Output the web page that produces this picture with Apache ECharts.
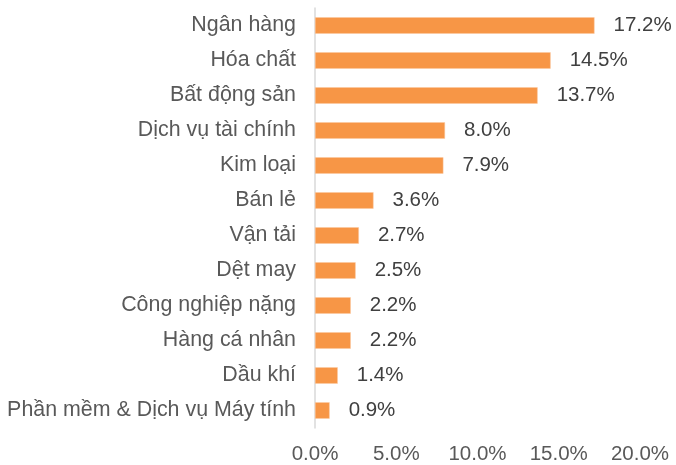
<!DOCTYPE html>
<html>
<head>
<meta charset="utf-8">
<script src="https://cdn.jsdelivr.net/npm/echarts@6/dist/echarts.min.js"></script>
<style>
  html, body { margin: 0; padding: 0; background: #fff; }
  #chart { width: 676px; height: 465px; }
</style>
</head>
<body>
<div id="chart"></div>
<script>
// ngành, thứ tự từ trên xuống
const categories = [
  'Ngân hàng', 'Hóa chất', 'Bất động sản', 'Dịch vụ tài chính', 'Kim loại',
  'Bán lẻ', 'Vận tải', 'Dệt may', 'Công nghiệp nặng', 'Hàng cá nhân',
  'Dầu khí', 'Phần mềm & Dịch vụ Máy tính'
]
const weights = [17.2, 14.5, 13.7, 8.0, 7.9, 3.6, 2.7, 2.5, 2.2, 2.2, 1.4, 0.9]
const xTicks = [0, 5, 10, 15, 20]

const font = 'Liberation Sans, Arial, sans-serif'
const chart = echarts.init(document.getElementById('chart'))

chart.setOption({
  animation: false,
  grid: { left: 315, right: 36, top: 8, bottom: 36 },
  xAxis: {
    type: 'value',
    min: xTicks[0],
    max: xTicks[xTicks.length - 1],
    interval: 5,
    axisLine: { show: false },
    axisTick: { show: false },
    splitLine: { show: false },
    axisLabel: {
      margin: 16,
      color: '#595959',
      fontFamily: font,
      fontSize: 20.5,
      formatter: v => v.toFixed(1) + '%'
    }
  },
  yAxis: {
    type: 'category',
    inverse: true,
    data: categories,
    axisLine: { lineStyle: { color: '#d9d9d9', width: 1.5 } },
    axisTick: { show: false },
    axisLabel: {
      margin: 19,
      color: '#595959',
      fontFamily: font,
      fontSize: 21.4
    }
  },
  series: [{
    type: 'bar',
    data: weights,
    barCategoryGap: '53%',
    itemStyle: { color: '#F79646', borderColor: '#fbc9a0', borderWidth: 0.5 },
    label: {
      show: true,
      position: 'right',
      distance: 19,
      color: '#404040',
      fontFamily: font,
      fontSize: 20.5,
      formatter: p => p.value.toFixed(1) + '%'
    }
  }]
})
</script>
</body>
</html>
